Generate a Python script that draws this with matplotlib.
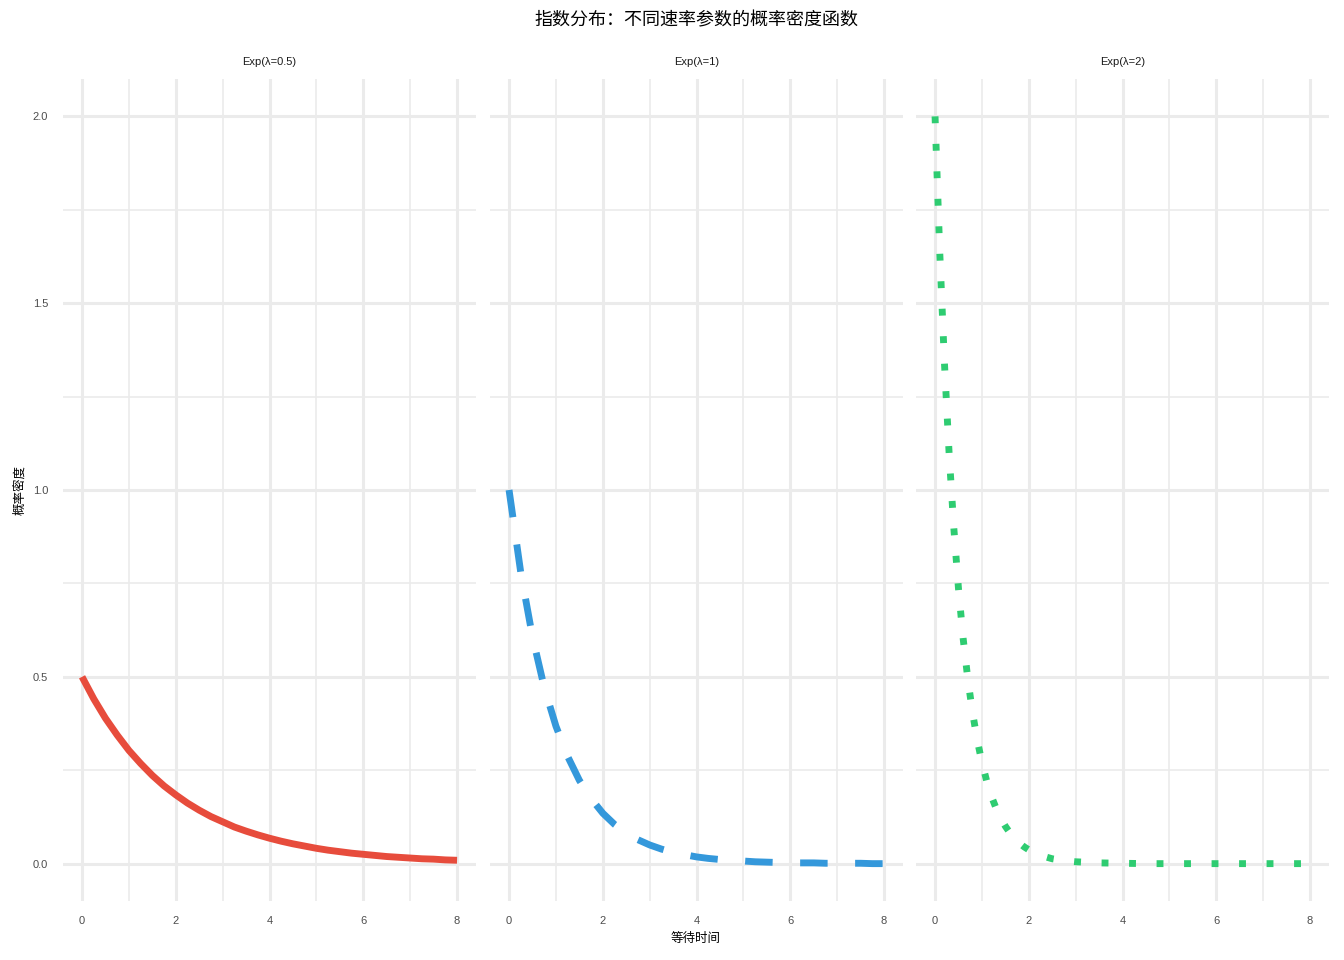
import matplotlib
matplotlib.use("Agg")
import matplotlib.pyplot as plt
from matplotlib.ticker import MultipleLocator

plt.rcParams['font.family'] = ['Liberation Sans', 'Noto Sans CJK SC', 'DejaVu Sans']

# --- data ---
panel_titles = ['Exp(λ=0.5)', 'Exp(λ=1)', 'Exp(λ=2)']

x_red = [0, 0.25, 0.5, 0.75, 1, 1.25, 1.5, 1.75, 2, 2.25, 2.5, 2.75, 3, 3.25, 3.5, 3.75,
         4, 4.25, 4.5, 4.75, 5, 5.25, 5.5, 5.75, 6, 6.25, 6.5, 6.75, 7, 7.25, 7.5, 7.75, 8]
y_red = [0.500, 0.441, 0.389, 0.344, 0.303, 0.268, 0.236, 0.208, 0.184, 0.162, 0.143, 0.126,
         0.112, 0.098, 0.087, 0.077, 0.068, 0.060, 0.053, 0.047, 0.041, 0.036, 0.032, 0.028,
         0.025, 0.022, 0.019, 0.017, 0.015, 0.013, 0.012, 0.010, 0.009]

x_blue = x_red
y_blue = [1.000, 0.779, 0.607, 0.472, 0.368, 0.287, 0.223, 0.174, 0.135, 0.105, 0.082, 0.064,
          0.050, 0.039, 0.030, 0.024, 0.018, 0.014, 0.011, 0.009, 0.007, 0.005, 0.004, 0.003,
          0.002, 0.002, 0.002, 0.001, 0.001, 0.001, 0.001, 0.000, 0.000]

x_green = [0, 0.1, 0.2, 0.3, 0.4, 0.5, 0.6, 0.7, 0.8, 0.9, 1.0, 1.1, 1.2, 1.3, 1.4, 1.5,
           1.6, 1.7, 1.8, 1.9, 2.0, 2.25, 2.5, 2.75, 3.0, 3.5, 4, 4.5, 5, 5.5, 6, 6.5, 7, 7.5, 8]
y_green = [2.000, 1.637, 1.341, 1.098, 0.899, 0.736, 0.602, 0.493, 0.404, 0.331, 0.271, 0.222,
           0.181, 0.149, 0.122, 0.100, 0.082, 0.067, 0.055, 0.045, 0.037, 0.022, 0.013, 0.008,
           0.005, 0.002, 0.001, 0.000, 0.000, 0.000, 0.000, 0.000, 0.000, 0.000, 0.000]

series = [
    (x_red, y_red, '#E74C3C', '-'),
    (x_blue, y_blue, '#3498DB', (0, (4, 4))),
    (x_green, y_green, '#2ECC71', (0, (1, 3))),
]

W, H = 1344, 960
fig = plt.figure(figsize=(W / 100, H / 100), dpi=100)

panel_left = [63.3, 490.3, 916.3]
panel_w = 412.5
top, bottom = 79, 901

for i, (xs, ys, col, ls) in enumerate(series):
    ax = fig.add_axes([panel_left[i] / W, 1 - bottom / H, panel_w / W, (bottom - top) / H])
    ax.plot(xs, ys, color=col, linestyle=ls, linewidth=4.95,
            solid_capstyle='butt', dash_capstyle='butt')
    ax.set_xlim(-0.4, 8.4)
    ax.set_ylim(-0.1, 2.1)
    ax.xaxis.set_major_locator(MultipleLocator(2))
    ax.xaxis.set_minor_locator(MultipleLocator(1))
    ax.yaxis.set_major_locator(MultipleLocator(0.5))
    ax.yaxis.set_minor_locator(MultipleLocator(0.25))
    ax.grid(which='major', color='#EBEBEB', linewidth=2.2)
    ax.grid(which='minor', color='#EBEBEB', linewidth=1.2)
    ax.set_axisbelow(True)
    for s in ax.spines.values():
        s.set_visible(False)
    ax.tick_params(which='both', length=0, labelsize=8, labelcolor='#4D4D4D', pad=11)
    if i > 0:
        ax.tick_params(axis='y', labelleft=False)
    ax.set_title(panel_titles[i], fontsize=8, color='#1A1A1A', pad=10)

cx = (panel_left[0] + panel_left[2] + panel_w) / 2 / W
fig.text(cx, 1 - 20 / H, '指数分布：不同速率参数的概率密度函数', ha='center', va='center',
         fontsize=13, color='black', fontweight='medium',
         family=['Noto Sans CJK SC', 'DejaVu Sans'])
fig.text(cx, 1 - 938 / H, '等待时间', ha='center', va='center', fontsize=9,
         family=['Noto Sans CJK SC', 'DejaVu Sans'])
fig.text(20 / W, 1 - 490 / H, '概率密度', ha='center', va='center', rotation=90, fontsize=9,
         family=['Noto Sans CJK SC', 'DejaVu Sans'])

fig.savefig('out.png', dpi=100, facecolor='white')
